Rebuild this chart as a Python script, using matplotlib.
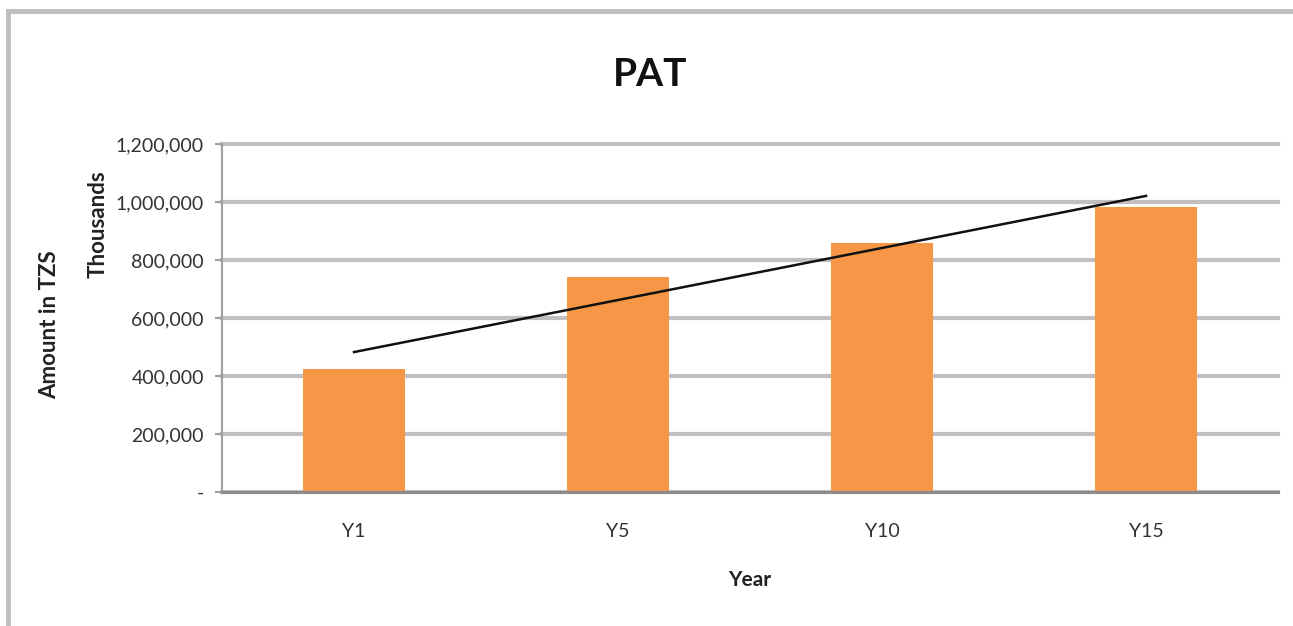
import numpy as np
import matplotlib.pyplot as plt
from matplotlib.lines import Line2D
from matplotlib.ticker import FuncFormatter

years = ["Y1", "Y5", "Y10", "Y15"]
pat = [424000, 741000, 859000, 983000]
y_ticks = [0, 200000, 400000, 600000, 800000, 1000000, 1200000]

plt.rcParams['font.family'] = ['Lato', 'DejaVu Sans']

fig = plt.figure(figsize=(12.93, 6.26), dpi=100)
ax = fig.add_axes([222 / 1293, 1 - 492 / 626, 1056 / 1293, 348 / 626])

x = np.arange(len(years))
ax.bar(x, pat, width=0.39, color="#F79646", zorder=3)

# linear trendline
slope, intercept = np.polyfit(x, pat, 1)
ax.plot(x, slope * x + intercept, color="#111111", lw=1.8, zorder=4)

ax.set_xlim(-0.5, len(years) - 0.5)
ax.set_ylim(0, 1200000)
ax.set_yticks(y_ticks)
ax.yaxis.set_major_formatter(FuncFormatter(lambda v, p: "-" if v == 0 else f"{v:,.0f}"))
ax.set_xticks(x)
ax.set_xticklabels(years)

ax.grid(axis="y", color="#C0C0C0", lw=3, zorder=0)
for gl in ax.get_ygridlines():
    gl.set_clip_on(False)
for s in ["top", "right"]:
    ax.spines[s].set_visible(False)
ax.spines["left"].set_color("#A0A0A0")
ax.spines["left"].set_linewidth(1.5)
ax.spines["bottom"].set_color("#8C8C8C")
ax.spines["bottom"].set_linewidth(2.2)
ax.spines["bottom"].set_zorder(5)
ax.tick_params(axis="y", length=5, color="#A0A0A0", width=1.5, labelsize=14, pad=8, labelcolor="#333333")
ax.tick_params(axis="x", length=0, labelsize=14, pad=22, labelcolor="#333333")

ax.set_xlabel("Year", fontsize=15, fontweight="bold", labelpad=22, color="#222222")
fig.text(50 / 1293, 1 - 325 / 626, "Amount in TZS", rotation=90, ha="center", va="center",
         fontsize=16, fontweight="bold", color="#222222")
fig.text(98 / 1293, 1 - 224 / 626, "Thousands", rotation=90, ha="center", va="center",
         fontsize=16, fontweight="bold", color="#222222")
fig.text(650 / 1293, 1 - 75 / 626, "PAT", ha="center", va="center",
         fontsize=28, fontweight="bold", color="#111111")

# chart area border (top and left)
fig.add_artist(Line2D([8 / 1293, 1], [1 - 11 / 626, 1 - 11 / 626], color="#BEBEBE", lw=3.5,
                      transform=fig.transFigure))
fig.add_artist(Line2D([8 / 1293, 8 / 1293], [0, 1 - 11 / 626], color="#BEBEBE", lw=3.5,
                      transform=fig.transFigure))

fig.savefig("out.png", dpi=100, facecolor="white")
